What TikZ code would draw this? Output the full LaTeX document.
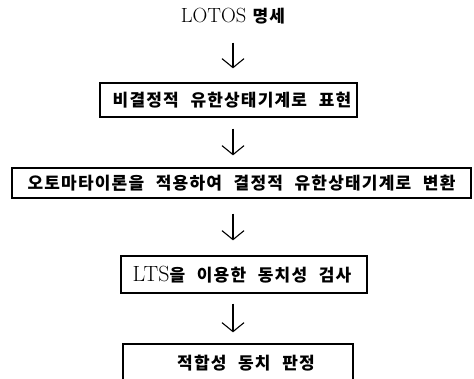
\documentclass[tikz,border=0pt]{standalone}
\usepackage{fontspec}
\usetikzlibrary{arrows.meta}
\newfontfamily\kr{Noto Sans CJK KR}[LetterSpace=7,WordSpace=2.3]
\newcommand\krfont{\fontsize{17}{19}\kr\bfseries}
\begin{document}
\begin{tikzpicture}[x=1pt,y=-1pt,
  stepbox/.style={draw, line width=1.3pt, inner sep=0pt, font=\krfont},
  flow/.style={line width=1.1pt, -{Straight Barb[length=9pt,width=22pt,line width=1.1pt]}},
  lat/.style={font=\fontsize{20.5}{23}\selectfont}]
\useasboundingbox (0,0) rectangle (474,378);
\clip (0,0) rectangle (474,378);
\coordinate (ax) at (233,0);
\node[lat, inner sep=0pt, text height=15pt, text depth=4pt] (t0) at (233,17) {LOTOS {\krfont 명세}};
\node[stepbox, minimum width=257pt, minimum height=34pt] (b1) at (228.5,100) {\hspace*{7pt}비결정적 유한상태기계로 표현};
\node[stepbox, minimum width=459pt, minimum height=30pt] (b2) at (241.5,183) {오토마타이론을 적용하여 결정적 유한상태기계로 변환};
\node[stepbox, minimum width=246pt, minimum height=37pt] (b3) at (244,274.5) {{\fontsize{22}{24}\rmfamily\mdseries LTS}을 이용한 동치성 검사\hspace*{4pt}};
\node[stepbox, minimum width=230pt, minimum height=38pt] (b4) at (238,363) {\hspace*{16pt}적합성 동치 판정};
\draw[flow, shorten <=16pt, shorten >=14pt] (t0.south -| ax) -- (b1.north -| ax);
\draw[flow, shorten <=11pt, shorten >=12pt] (b1.south -| ax) -- (b2.north -| ax);
\draw[flow, shorten <=15pt, shorten >=15pt] (b2.south -| ax) -- (b3.north -| ax);
\draw[flow, shorten <=10pt, shorten >=11pt] (b3.south -| ax) -- (b4.north -| ax);
\end{tikzpicture}
\end{document}
